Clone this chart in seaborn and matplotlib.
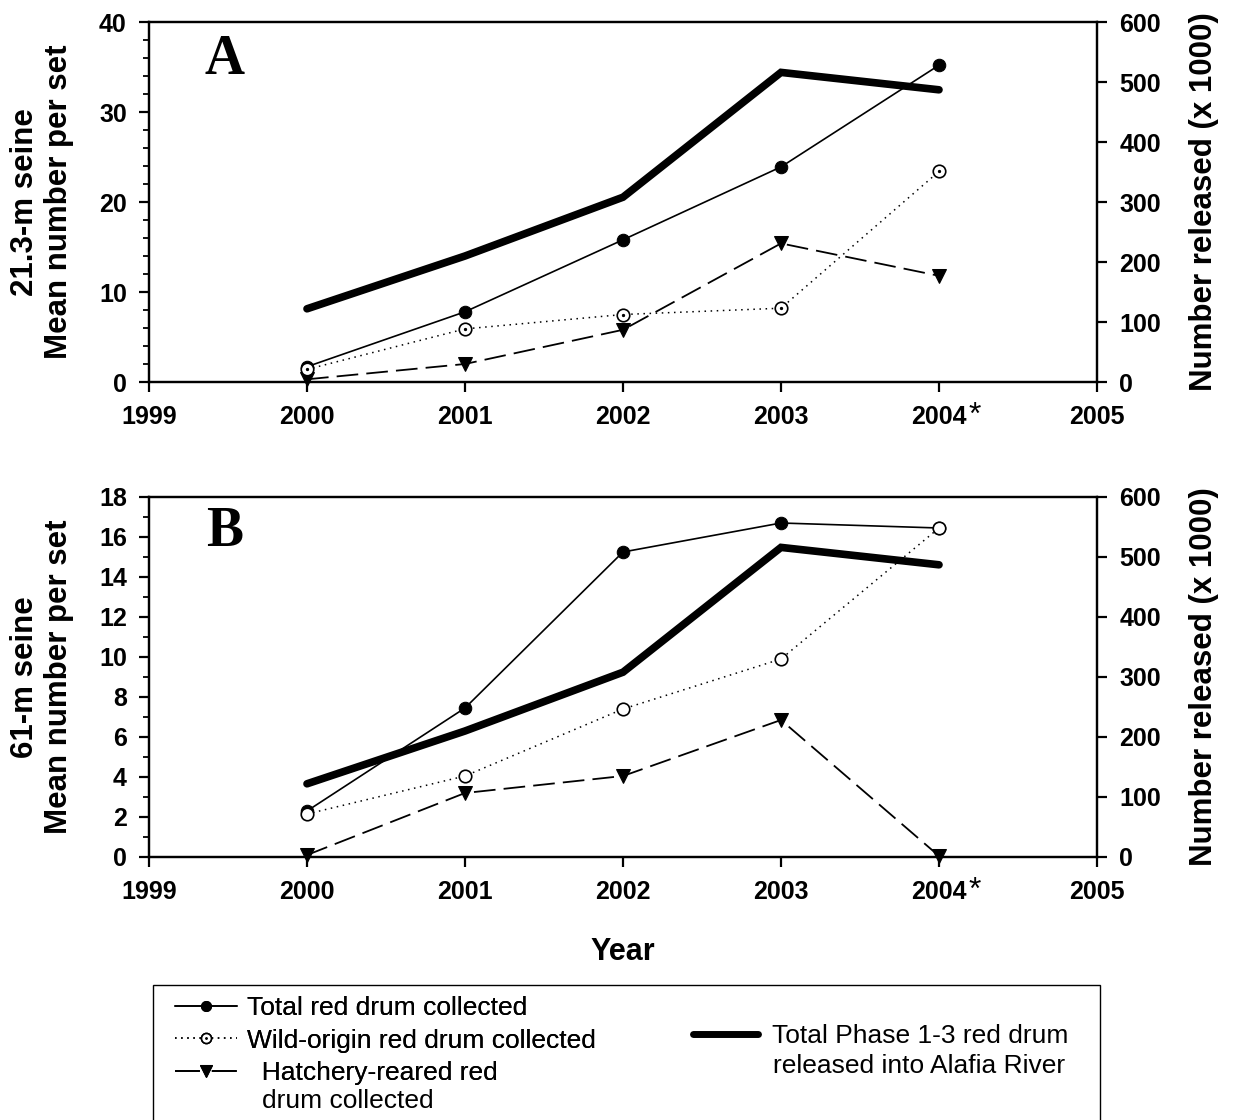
import numpy as np
import pandas as pd
import matplotlib
matplotlib.use("Agg")
import matplotlib.pyplot as plt
from matplotlib.patches import Rectangle
from matplotlib.legend_handler import HandlerTuple
import seaborn as sns

sns.set_style("ticks")
plt.rcParams['font.family'] = ['Liberation Sans', 'DejaVu Sans']
for k in ["text.color", "axes.labelcolor", "xtick.color", "ytick.color", "axes.edgecolor"]:
    plt.rcParams[k] = "black"

years = [2000, 2001, 2002, 2003, 2004]
xtick_years = [1999, 2000, 2001, 2002, 2003, 2004, 2005]
xtick_labels = ["1999", "2000", "2001", "2002", "2003", "2004", "2005"]

# Panel A (21.3-m seine)
a_total = [1.7, 7.8, 15.8, 23.9, 35.2]
a_wild = [1.4, 5.9, 7.5, 8.2, 23.4]
a_hatch = [0.3, 2.0, 5.8, 15.4, 11.8]
# Panel B (61-m seine)
b_total = [2.3, 7.45, 15.25, 16.7, 16.45]
b_wild = [2.15, 4.05, 7.4, 9.9, 16.45]
b_hatch = [0.1, 3.2, 4.05, 6.85, 0.05]
# Released (x 1000)
released = [122, 210, 308, 516, 487]

W, H = 1233, 1120
panels = [
    dict(letter="A", total=a_total, wild=a_wild, hatch=a_hatch, ymax=40, major=10, minor=2,
         ylabel="21.3-m seine\nMean number per set", dotted_center=True, ly=0.894,
         top=22, bottom=382),
    dict(letter="B", total=b_total, wild=b_wild, hatch=b_hatch, ymax=18, major=2, minor=1,
         ylabel="61-m seine\nMean number per set", dotted_center=False, ly=0.903,
         top=497, bottom=857),
]

TICK_FS = 18
fig = plt.figure(figsize=(W / 100, H / 100), dpi=100)
handles = {}
for p in panels:
    rect = [149 / W, 1 - p["bottom"] / H, 948 / W, (p["bottom"] - p["top"]) / H]
    ax = fig.add_axes(rect)
    ax2 = ax.twinx()
    # released thick line (right axis)
    sns.lineplot(x=years, y=released, ax=ax2, color="black", linewidth=5.5,
                 solid_capstyle="round", solid_joinstyle="miter", zorder=2)
    h_rel = ax2.lines[-1]
    # hatchery
    sns.lineplot(x=years, y=p["hatch"], ax=ax, color="black", linewidth=1.3,
                 linestyle=(0, (12, 4.5)), marker="v", markersize=10,
                 markerfacecolor="black", markeredgecolor="black", zorder=3, clip_on=False)
    h_hatch = ax.lines[-1]
    # total
    sns.lineplot(x=years, y=p["total"], ax=ax, color="black", linewidth=1.2,
                 marker="o", markersize=9, markerfacecolor="black",
                 markeredgecolor="black", zorder=4, clip_on=False)
    h_total = ax.lines[-1]
    # wild
    sns.lineplot(x=years, y=p["wild"], ax=ax, color="black", linewidth=1.1,
                 linestyle=(0, (1, 3)), marker="o", markersize=9,
                 markerfacecolor="white", markeredgecolor="black",
                 markeredgewidth=1.2, zorder=5, clip_on=False)
    h_wild = ax.lines[-1]
    if p["dotted_center"]:
        sns.lineplot(x=years, y=p["wild"], ax=ax, color="black", linestyle="none",
                     marker="o", markersize=1.6, markerfacecolor="black",
                     markeredgecolor="black", zorder=6, clip_on=False)
        h_dot = ax.lines[-1]
        handles = dict(total=h_total, wild=(h_wild, h_dot), hatch=h_hatch, rel=h_rel)

    ax.set_zorder(ax2.get_zorder() + 1)
    ax.patch.set_visible(False)

    ax.set_xlim(1999, 2005)
    ax.set_ylim(0, p["ymax"])
    ax2.set_ylim(0, 600)
    ax.set_xticks(xtick_years)
    ax.set_xticklabels(xtick_labels)
    ax.set_yticks(np.arange(0, p["ymax"] + 0.01, p["major"]))
    ax.set_yticks(np.arange(0, p["ymax"] + 0.01, p["minor"]), minor=True)
    ax2.set_yticks(np.arange(0, 601, 100))

    for a in (ax, ax2):
        for s in a.spines.values():
            s.set_visible(True)
            s.set_linewidth(1.6)
            s.set_color("black")
    ax.tick_params(axis="x", which="major", direction="out", length=7, width=1.6,
                   labelsize=TICK_FS, pad=9.5)
    ax.tick_params(axis="y", which="major", direction="out", length=7, width=1.6,
                   labelsize=TICK_FS, pad=9)
    ax.tick_params(axis="y", which="minor", direction="out", length=4.5, width=1.3)
    ax.tick_params(axis="x", which="minor", bottom=False)
    ax2.tick_params(axis="y", which="major", direction="out", length=7, width=1.6,
                    labelsize=TICK_FS, pad=9)
    for lab in ax.get_xticklabels() + ax.get_yticklabels() + ax2.get_yticklabels():
        lab.set_fontweight("bold")

    ax.set_xlabel("")
    ax.set_ylabel("")
    ax2.set_ylabel("")
    yc = 1 - (p["top"] + p["bottom"]) / 2 / H
    fig.text(42 / W, yc, p["ylabel"], rotation=90, ha="center", va="center",
             multialignment="center", fontsize=22.5, fontweight="bold", linespacing=1.2)
    fig.text(1204 / W, yc, "Number released (x 1000)", rotation=90, ha="center",
             va="center", fontsize=22.5, fontweight="bold")

    ax.text(0.08, p["ly"], p["letter"], transform=ax.transAxes, fontsize=40,
            fontweight="bold", family="Liberation Serif", va="center", ha="center")
    # asterisk on 2004
    ax.annotate("*", xy=(2004, 0), xycoords=("data", "axes fraction"),
                xytext=(21, -13.5), textcoords="offset points", fontsize=23,
                ha="left", va="top", annotation_clip=False)

# Year label
fig.text((149 + 1097) / 2 / W, 1 - 952 / H, "Year", fontsize=22,
         fontweight="bold", ha="center", va="center")

# Legend box
fig.patches.append(Rectangle((153 / W, -0.05), 947 / W, 0.05 + 1 - 985 / H,
                             transform=fig.transFigure, fill=False,
                             edgecolor="black", linewidth=1.0))

LEG_FS = 19
leg1 = fig.legend([handles["total"], handles["wild"], handles["hatch"]],
                  ["Total red drum collected", "Wild-origin red drum collected",
                   "  Hatchery-reared red"],
                  loc="upper left", bbox_to_anchor=(175 / W, 1 - 996 / H),
                  frameon=False, fontsize=LEG_FS, handlelength=2.35, handletextpad=0.38,
                  labelspacing=0.33, borderaxespad=0, borderpad=0, markerscale=0.8,
                  handler_map={tuple: HandlerTuple(ndivide=1, pad=0)})
# custom dash pattern for the hatchery legend key
leg1.get_lines()[2].set_linestyle((0, (13.8, 6.6)))
fig.text(262 / W, 1 - 1101 / H, "drum collected", fontsize=LEG_FS,
         ha="left", va="center")

leg2 = fig.legend([handles["rel"]], ["Total Phase 1-3 red drum"],
                  loc="center left", bbox_to_anchor=(693 / W, 1 - 1036 / H),
                  frameon=False, fontsize=LEG_FS, handlelength=2.45, handletextpad=0.53,
                  borderaxespad=0, borderpad=0)
leg2.get_lines()[0].set_linewidth(5.0)
fig.text(773 / W, 1 - 1066 / H, "released into Alafia River", fontsize=LEG_FS,
         ha="left", va="center")
fig.add_artist(leg1)

fig.savefig("out.png", dpi=100)
